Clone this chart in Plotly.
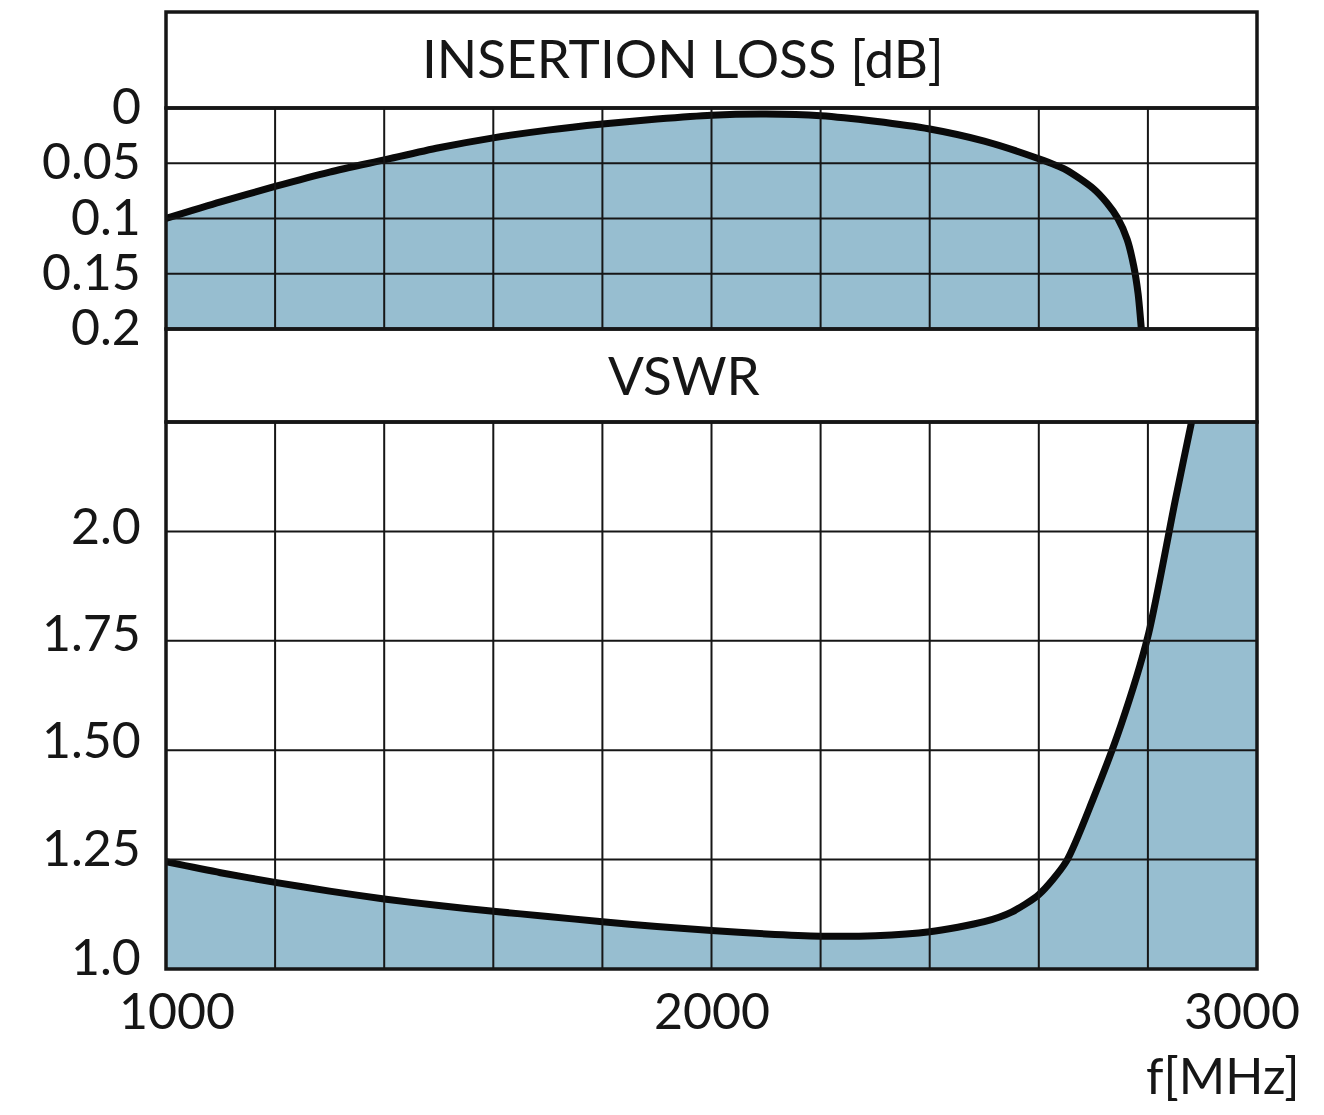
import plotly.graph_objects as go

# ---------------- data ----------------
il_freq = [1000, 1100, 1200, 1300, 1400, 1500, 1600, 1700, 1800, 1900, 2000,
           2100, 2200, 2300, 2400, 2500, 2600, 2650, 2700, 2725, 2745, 2762, 2774, 2782, 2788]
il_db = [0.100, 0.085, 0.071, 0.058, 0.047, 0.036, 0.027, 0.020, 0.0145, 0.010, 0.0065,
         0.0055, 0.007, 0.012, 0.019, 0.030, 0.046, 0.056, 0.073, 0.086, 0.100, 0.119,
         0.143, 0.168, 0.200]

vswr_freq = [1000, 1100, 1200, 1300, 1400, 1500, 1600, 1700, 1800, 1900, 2000,
             2100, 2200, 2300, 2400, 2500, 2550, 2600, 2650, 2700, 2750, 2800,
             2850, 2880, 2950, 3000]
vswr_val = [1.245, 1.220, 1.198, 1.178, 1.160, 1.145, 1.132, 1.120, 1.108, 1.097, 1.088,
            1.080, 1.075, 1.076, 1.085, 1.108, 1.130, 1.170, 1.245, 1.390, 1.555, 1.760,
            2.070, 2.250, 2.650, 2.950]

x_ticks = [1000, 2000, 3000]
x_tick_text = ["1000", "2000", "3000"]
x_grid = [1200, 1400, 1600, 1800, 2000, 2200, 2400, 2600, 2800]

il_ticks = [0, 0.05, 0.1, 0.15, 0.2]
il_tick_text = ["0", "0.05", "0.1", "0.15", "0.2"]

vswr_ticks = [1.0, 1.25, 1.5, 1.75, 2.0]
vswr_tick_text = ["1.0", "1.25", "1.50", "1.75", "2.0"]
vswr_grid = [1.25, 1.5, 1.75, 2.0]

title_il = "INSERTION LOSS [dB]"
title_vswr = "VSWR"
x_unit = "f[MHz]"

# ---------------- styles ----------------
W, H = 1324, 1115
FILL = "#97BED0"
DARK = "#161616"
FONT = "Lato"


def px_x(p):
    return p / W


def px_y(p):
    return 1 - p / H


left, right = 166, 1257
top_box, il_top, il_bot, vs_top, vs_bot = 12, 108, 329, 422, 969

fig = go.Figure()

# Insertion loss: baseline at 0.2 then curve filled to it
fig.add_trace(go.Scatter(x=[il_freq[0], il_freq[-1]], y=[il_ticks[-1], il_ticks[-1]],
                         mode="lines", line=dict(width=0), hoverinfo="skip",
                         showlegend=False, xaxis="x", yaxis="y"))
fig.add_trace(go.Scatter(x=il_freq, y=il_db, mode="lines", fill="tonexty",
                         fillcolor=FILL,
                         line=dict(color="#0a0a0a", width=7, shape="spline", smoothing=0.7),
                         showlegend=False, xaxis="x", yaxis="y"))

# VSWR
fig.add_trace(go.Scatter(x=vswr_freq, y=vswr_val, mode="lines", fill="tozeroy",
                         fillcolor=FILL,
                         line=dict(color="#0a0a0a", width=7, shape="spline", smoothing=0.7),
                         showlegend=False, xaxis="x2", yaxis="y2"))

shapes = []
# grid lines (above the fill)
for g in x_grid:
    shapes.append(dict(type="line", xref="x", yref="y", x0=g, x1=g, y0=0, y1=0.2,
                       line=dict(color=DARK, width=2), layer="above"))
    shapes.append(dict(type="line", xref="x2", yref="y2", x0=g, x1=g, y0=1.0, y1=2.25,
                       line=dict(color=DARK, width=2), layer="above"))
for g in il_ticks[1:-1]:
    shapes.append(dict(type="line", xref="x", yref="y", x0=1000, x1=3000, y0=g, y1=g,
                       line=dict(color=DARK, width=2), layer="above"))
for g in vswr_grid:
    shapes.append(dict(type="line", xref="x2", yref="y2", x0=1000, x1=3000, y0=g, y1=g,
                       line=dict(color=DARK, width=2), layer="above"))

# frame boxes
for (a, b) in [(top_box, il_top), (il_top, il_bot), (il_bot, vs_top), (vs_top, vs_bot)]:
    shapes.append(dict(type="rect", xref="paper", yref="paper",
                       x0=px_x(left), x1=px_x(right), y0=px_y(b), y1=px_y(a),
                       line=dict(color=DARK, width=3.5), layer="above"))

annotations = []
# titles
annotations.append(dict(text=title_il, xref="paper", yref="paper", x=px_x(683), y=px_y(58),
                        xanchor="center", yanchor="middle", showarrow=False,
                        font=dict(family=FONT, size=53, color=DARK)))
annotations.append(dict(text=title_vswr, xref="paper", yref="paper", x=px_x(684), y=px_y(374),
                        xanchor="center", yanchor="middle", showarrow=False,
                        font=dict(family=FONT, size=53, color=DARK)))
# y tick labels
for v, t in zip(il_ticks, il_tick_text):
    annotations.append(dict(text=t, xref="paper", yref="y", x=px_x(143), y=v, yshift=3,
                            xanchor="right", yanchor="middle", showarrow=False,
                            font=dict(family=FONT, size=50, color=DARK)))
vswr_label_shift = {1.0: 13, 1.25: 13, 1.5: 11, 1.75: 9, 2.0: 6}
for v, t in zip(vswr_ticks, vswr_tick_text):
    annotations.append(dict(text=t, xref="paper", yref="y2", x=px_x(143), y=v,
                            yshift=vswr_label_shift[v],
                            xanchor="right", yanchor="middle", showarrow=False,
                            font=dict(family=FONT, size=50, color=DARK)))
# x tick labels
x_shift = {1000: 11, 2000: 0, 3000: -15}
for v, t in zip(x_ticks, x_tick_text):
    annotations.append(dict(text=t, xref="x2", yref="paper", x=v, y=px_y(1010),
                            xshift=x_shift[v], xanchor="center", yanchor="middle",
                            showarrow=False, font=dict(family=FONT, size=50, color=DARK)))
annotations.append(dict(text=x_unit, xref="paper", yref="paper", x=px_x(1302), y=px_y(1075),
                        xanchor="right", yanchor="middle", showarrow=False,
                        font=dict(family=FONT, size=50, color=DARK)))

axis_common = dict(showgrid=False, zeroline=False, showticklabels=False, ticks="",
                   showline=False, fixedrange=True)

fig.update_layout(
    width=W, height=H,
    margin=dict(l=0, r=0, t=0, b=0),
    paper_bgcolor="white", plot_bgcolor="white",
    showlegend=False,
    xaxis=dict(domain=[px_x(left), px_x(right)], range=[1000, 3000], anchor="y", **axis_common),
    yaxis=dict(domain=[px_y(il_bot), px_y(il_top)], range=[0.2, 0], anchor="x", **axis_common),
    xaxis2=dict(domain=[px_x(left), px_x(right)], range=[1000, 3000], anchor="y2", **axis_common),
    yaxis2=dict(domain=[px_y(vs_bot), px_y(vs_top)], range=[1.0, 2.25], anchor="x2", **axis_common),
    shapes=shapes,
    annotations=annotations,
)

fig.write_html("out.html")
